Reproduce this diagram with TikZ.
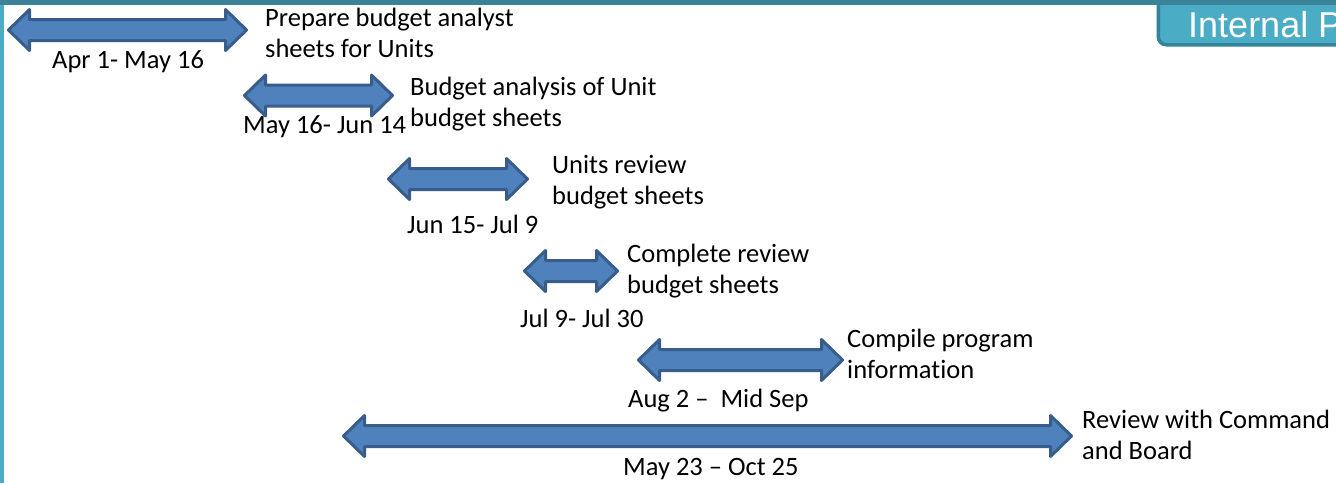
\documentclass[tikz,border=0pt]{standalone}
\usepackage{fontspec}
\setmainfont{Carlito}[Ligatures=NoCommon]
\newfontfamily\arialfont{Liberation Sans}
\definecolor{arrfill}{HTML}{4F81BD}
\definecolor{arrline}{HTML}{385D8A}
\definecolor{tealdark}{HTML}{3A8399}
\definecolor{teallight}{HTML}{4BACC6}
\definecolor{tabline}{HTML}{31849B}
\tikzset{
  dblarr/.style={draw=arrline, fill=arrfill, line width=3pt, line join=round},
  lbl/.style={anchor=base west, inner sep=0pt, align=left, font=\fontsize{26.5}{31}\selectfont}
}
% #1 name, #2 left tip x, #3 right tip x, #4 centre y
\newcommand{\mydblarrow}[4]{%
  \path[dblarr] (#2,#4) -- (#2+21,#4-20.5) -- (#2+21,#4-10.5) -- (#3-21,#4-10.5) -- (#3-21,#4-20.5)
    -- (#3,#4) -- (#3-21,#4+20.5) -- (#3-21,#4+10.5) -- (#2+21,#4+10.5) -- (#2+21,#4+20.5) -- cycle;
  \coordinate (#1) at ({(#2+#3)/2},#4);
}
\begin{document}
\begin{tikzpicture}[x=1pt,y=-1pt]
\useasboundingbox (0,0) rectangle (1336,483);
\fill[white] (0,0) rectangle (1336,483);
% tab
\begin{scope}
\clip (0,0) rectangle (1336,483);
\node[draw=tabline, fill=teallight, line width=3.5pt, rounded corners=8pt, minimum width=200pt, minimum height=56pt, anchor=south west] (tab) at (1156.5,46.5) {};
\node[anchor=base west, inner sep=0pt, text=white, font=\arialfont\fontsize{36}{40}\selectfont] (tabtxt) at (1188,37) {Internal P};
\fill[tealdark] (0,0) rectangle (1336,4.5);
\fill[teallight] (0,4.5) rectangle (3.5,483);
\end{scope}
% arrows
\mydblarrow{a1}{8.5}{246.5}{30}
\mydblarrow{a2}{244.5}{392.5}{95.5}
\mydblarrow{a3}{388.5}{527.5}{179}
\mydblarrow{a4}{524.5}{617.5}{271}
\mydblarrow{a5}{638.5}{842.5}{360}
\mydblarrow{a6}{343.5}{1071.5}{436}
% labels
\node[lbl] (t1) at (265,57) {Prepare budget analyst\\sheets for Units};
\node[lbl] (d1) at (52,68) {Apr 1- May 16};
\node[lbl] (t2) at (410,126) {Budget analysis of Unit\\budget sheets};
\node[lbl] (d2) at (243,133) {May 16- Jun 14};
\node[lbl] (t3) at (552,204) {Units review\\budget sheets};
\node[lbl] (d3) at (407,233) {Jun 15- Jul 9};
\node[lbl] (t4) at (627,293) {Complete review\\budget sheets};
\node[lbl] (d4) at (520,327) {Jul 9- Jul 30};
\node[lbl] (t5) at (847,378) {Compile program\\information};
\node[lbl] (d5) at (628,407) {Aug 2 \textendash\ \ Mid Sep};
\node[lbl] (t6) at (1082,459) {Review with Command\\and Board};
\node[lbl] (d6) at (623,475) {May 23 \textendash\ Oct 25};
\end{tikzpicture}
\end{document}
